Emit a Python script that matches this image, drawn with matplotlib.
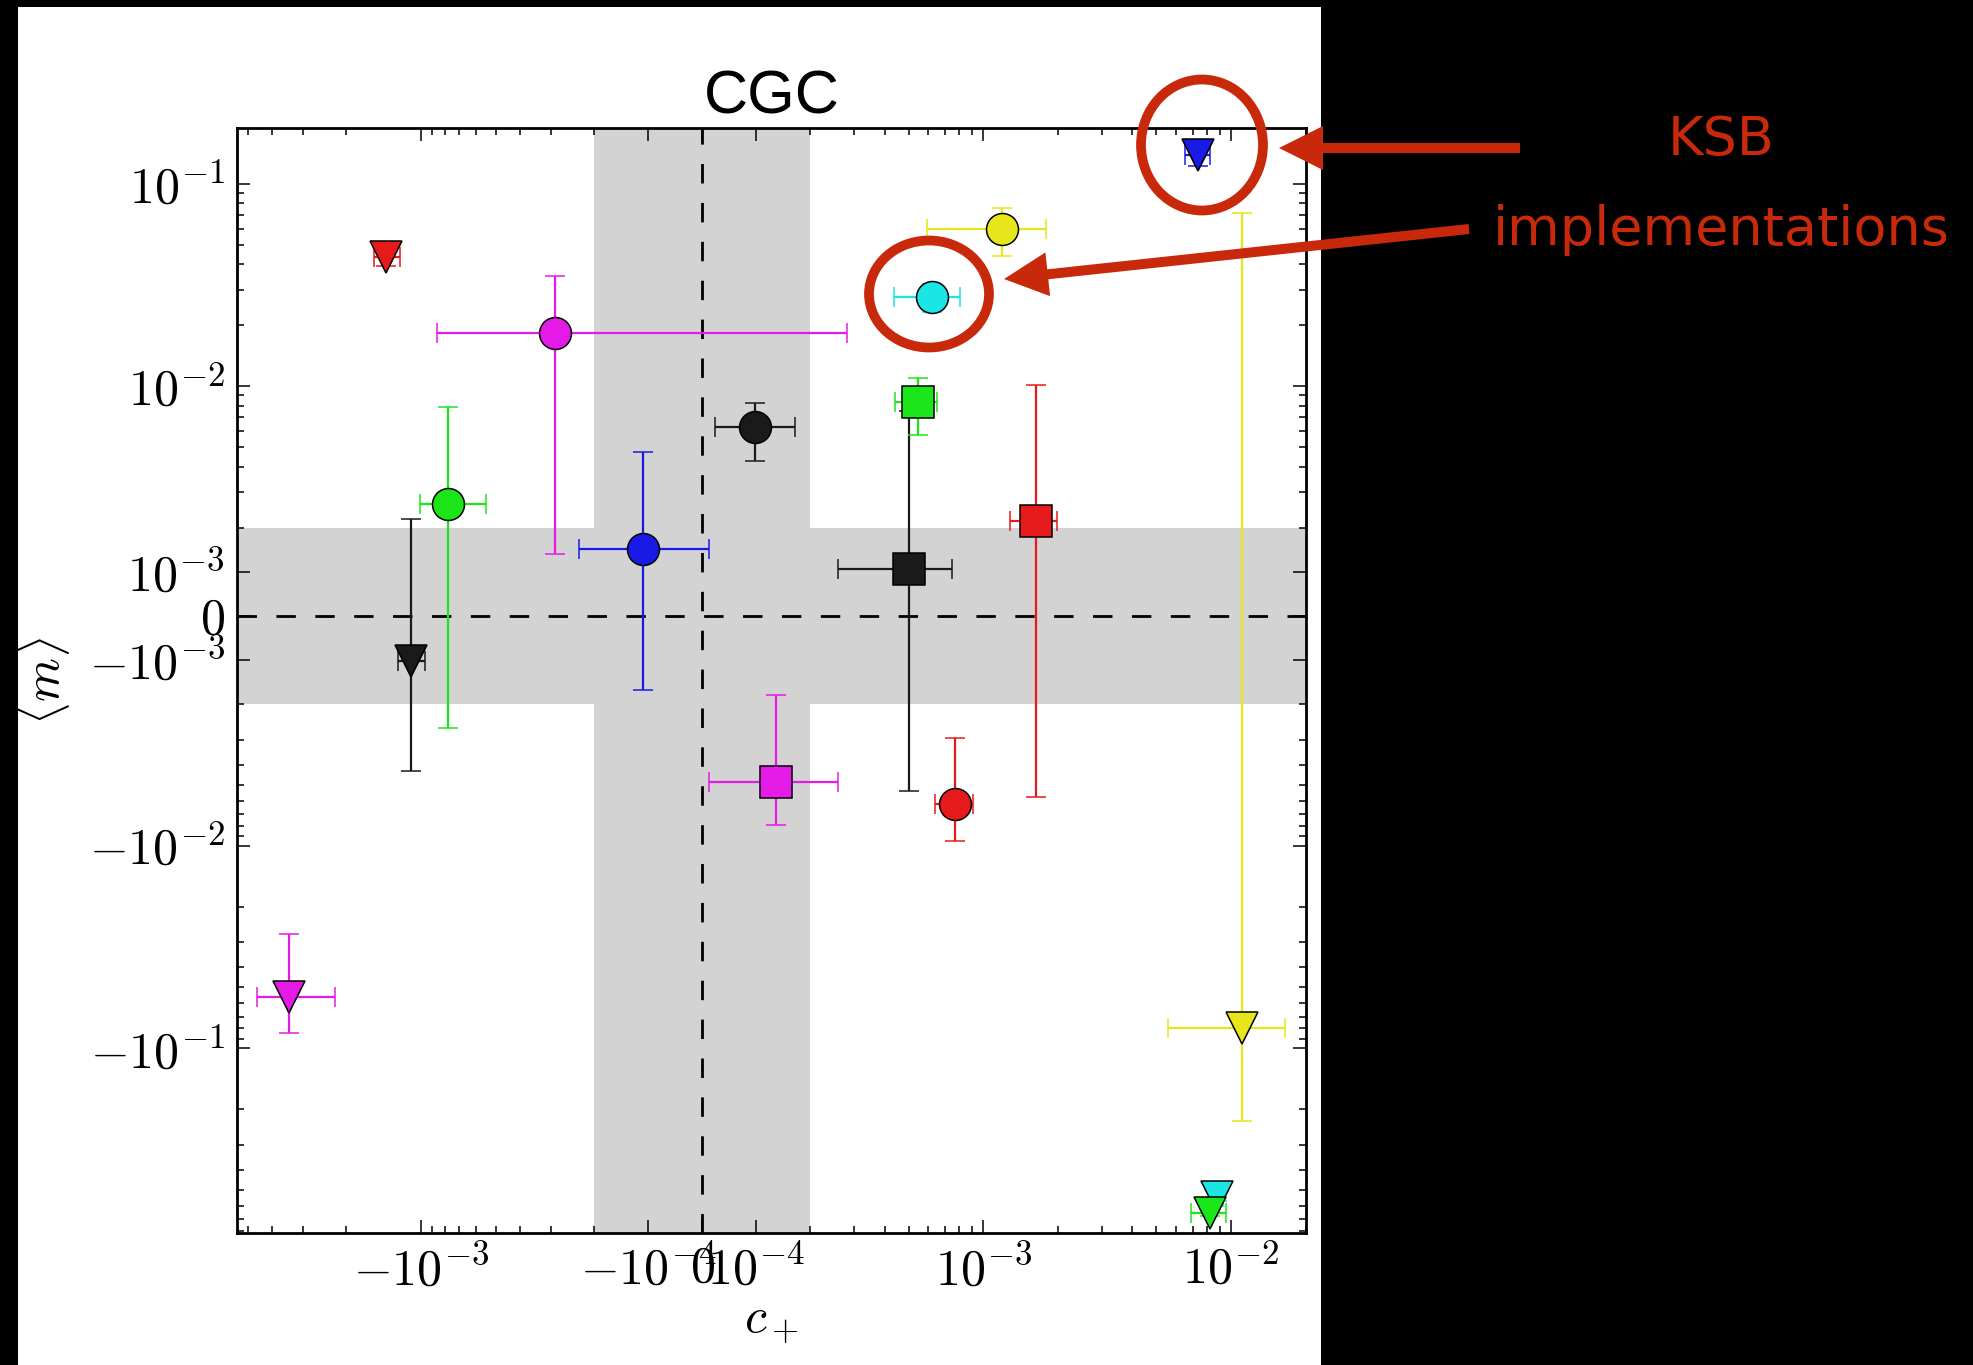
import matplotlib
matplotlib.use("Agg")
import matplotlib.pyplot as plt
from matplotlib.patches import Ellipse, FancyArrow, Rectangle
from matplotlib.ticker import FixedLocator, FixedFormatter, NullFormatter

plt.rcParams["mathtext.fontset"] = "cm"
plt.rcParams["font.family"] = ["Liberation Sans", "DejaVu Sans"]

# 各方法的 c_+ 与 <m>
c_plus = [-1.38e-3, -2.88e-4, -7.77e-4, -1.09e-4, 9.8e-5, 1.19e-3, 6.21e-4, 7.37e-3, 5.03e-4,
          5.47e-4, 1.63e-3, 1.104e-2, -1.10e-3, -3.41e-3, 1.36e-4, 7.71e-4, 8.8e-3, 8.24e-3]
c_plus_err = [1.6e-4, 5.7e-4, 2.3e-4, 1.21e-4, 7.4e-5, 5.95e-4, 1.85e-4, 8.4e-4, 2.44e-4,
              1.06e-4, 3.5e-4, 5.45e-3, 1.35e-4, 1.18e-3, 1.23e-4, 1.34e-4, 5e-4, 1.32e-3]
m_mean = [0.0434, 0.0182, 2.61e-3, 1.52e-3, 6.26e-3, 0.0597, 0.0276, 0.139, 1.06e-3,
          8.35e-3, 2.16e-3, -0.0792, -1.03e-3, -0.0557, -4.87e-3, -6.21e-3, -0.546, -0.653]
m_err = [4e-3, 0.0168, 5.25e-3, 3.2e-3, 2.0e-3, 0.016, 4.5e-3, 0.0167, 6.46e-3,
         2.6e-3, 7.94e-3, 0.151, 3.23e-3, 0.0284, 3.08e-3, 3.27e-3, 0.02, 0.02]
markers = ["v", "o", "o", "o", "o", "o", "o", "v", "s",
           "s", "s", "v", "v", "v", "s", "o", "v", "v"]
point_colors = ["red", "magenta", "green", "blue", "black", "yellow", "cyan", "blue", "black",
                "green", "red", "yellow", "black", "magenta", "magenta", "red", "cyan", "green"]

palette = {
    "red": (0.9, 0.1, 0.1),
    "magenta": (0.9, 0.1, 0.9),
    "green": (0.1, 0.9, 0.1),
    "blue": (0.1, 0.1, 0.9),
    "black": (0.1, 0.1, 0.1),
    "yellow": (0.9, 0.9, 0.1),
    "cyan": (0.1, 0.9, 0.9),
}

x_ticks = [-1e-3, -1e-4, 0, 1e-4, 1e-3, 1e-2]
x_ticklabels = [r"$-10^{-3}$", r"$-10^{-4}$", r"$0$", r"$10^{-4}$", r"$10^{-3}$", r"$10^{-2}$"]
y_ticks = [-1e-1, -1e-2, -1e-3, 0, 1e-3, 1e-2, 1e-1]
y_ticklabels = [r"$-10^{-1}$", r"$-10^{-2}$", r"$-10^{-3}$", r"$0$", r"$10^{-3}$", r"$10^{-2}$", r"$10^{-1}$"]

x_band = 2e-4
y_band = 2e-3

W, H = 1973, 1365
fig = plt.figure(figsize=(W / 100, H / 100), dpi=100, facecolor="black")
# 原图的白色画布区域
fig.add_artist(Rectangle((18 / W, 0), 1303 / W, 1358 / H, transform=fig.transFigure,
                         facecolor="white", edgecolor="none", zorder=-1))

ax = fig.add_axes([237.3 / W, 1 - 1233 / H, (1306 - 237.3) / W, (1233 - 128.3) / H])
ax.set_xscale("symlog", linthresh=2e-4, linscale=0.392)
ax.set_yscale("symlog", linthresh=2e-3, linscale=0.392)
ax.set_xlim(-5.51e-3, 2.006e-2)
ax.set_ylim(-0.819, 0.1876)

ax.axvspan(-x_band, x_band, color="lightgray", lw=0, zorder=0)
ax.axhspan(-y_band, y_band, color="lightgray", lw=0, zorder=0)
ax.axvline(0, color="black", lw=2, ls=(0, (7, 7)), zorder=1)
ax.axhline(0, color="black", lw=2, ls=(0, (7, 7)), zorder=1)

for i in range(len(c_plus)):
    col = palette[point_colors[i]]
    ax.errorbar(c_plus[i], m_mean[i], xerr=c_plus_err[i], yerr=m_err[i], fmt=markers[i],
                color=col, mfc=col, mec="black", mew=1.1, ms=23,
                elinewidth=1.6, capsize=7, capthick=1.6, zorder=3)

# 刻度
ax.xaxis.set_major_locator(FixedLocator(x_ticks))
ax.xaxis.set_major_formatter(FixedFormatter(x_ticklabels))
ax.yaxis.set_major_locator(FixedLocator(y_ticks))
ax.yaxis.set_major_formatter(FixedFormatter(y_ticklabels))

x_minor = []
y_minor = []
for e in [-4, -3, -2]:
    for k in range(2, 10):
        v = k * 10.0 ** e
        x_minor += [v, -v]
for e in [-3, -2, -1]:
    for k in range(2, 10):
        v = k * 10.0 ** e
        y_minor += [v, -v]
ax.xaxis.set_minor_locator(FixedLocator(x_minor))
ax.yaxis.set_minor_locator(FixedLocator(y_minor))
ax.xaxis.set_minor_formatter(NullFormatter())
ax.yaxis.set_minor_formatter(NullFormatter())

ax.tick_params(which="both", direction="in", top=True, right=True, labelsize=36)
ax.tick_params(which="major", length=9.5, width=1.1, pad=9)
ax.tick_params(which="minor", length=5, width=1.1)
for s in ax.spines.values():
    s.set_linewidth(2)

ax.set_xlabel(r"$c_+$", fontsize=36, labelpad=4)
ax.set_ylabel(r"$\langle m\rangle$", fontsize=36, labelpad=12)
ax.set_title("CGC", fontsize=44, pad=11)

# 标注层（像素坐标）
ann = "#C9290B"
ov = fig.add_axes([0, 0, 1, 1], zorder=10)
ov.set_xlim(0, W)
ov.set_ylim(H, 0)
ov.axis("off")
ov.add_patch(Ellipse((1202, 145), 122, 131, fill=False, lw=7, ec=ann))
ov.add_patch(Ellipse((929, 294), 120, 107, fill=False, lw=7, ec=ann))
ov.add_patch(FancyArrow(1520, 148, -241, 0, width=10, head_width=44, head_length=44,
                        length_includes_head=True, color=ann, lw=0))
ov.add_patch(FancyArrow(1469, 229, -465, 50, width=10, head_width=44, head_length=44,
                        length_includes_head=True, color=ann, lw=0))
ov.text(1721, 155, "KSB", fontsize=39, color=ann, ha="center", va="baseline", family="DejaVu Sans")
ov.text(1721, 245, "implementations", fontsize=39, color=ann, ha="center", va="baseline",
        family="DejaVu Sans")

fig.savefig("out.png", dpi=100, facecolor=fig.get_facecolor())
